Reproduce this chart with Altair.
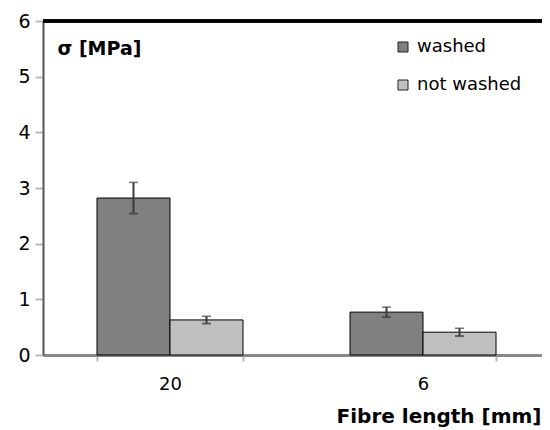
import altair as alt
import pandas as pd

lengths = ["20", "20", "6", "6"]
treatments = ["washed", "not washed", "washed", "not washed"]
stress = [2.82, 0.63, 0.77, 0.41]
err = [0.28, 0.065, 0.09, 0.07]

df = pd.DataFrame({"length": lengths, "treatment": treatments, "stress": stress, "err": err})
df["lo"] = df["stress"] - df["err"]
df["hi"] = df["stress"] + df["err"]

FONT = "DejaVu Sans"
order = ["washed", "not washed"]

x = alt.X("length:N", sort=["20", "6"],
          scale=alt.Scale(paddingInner=0.423, paddingOuter=0.1976, align=0.54),
          axis=alt.Axis(title="Fibre length [mm]", labelAngle=0, labelFontSize=18, labelFont=FONT,
                        labelColor="#000", labelPadding=14, domainColor="#888", domainWidth=3,
                        tickColor="#bbb", tickSize=6, tickWidth=2, tickBand="extent",
                        titleFont=FONT, titleFontSize=20, titleFontWeight="bold", titleColor="#000",
                        titleAnchor="start", titleAlign="right", titleX=498, titleY=67,
                        titleBaseline="alphabetic"))
xo = alt.XOffset("treatment:N", sort=order)

bars = alt.Chart(df).mark_bar(stroke="#000", strokeWidth=1).encode(
    x=x, xOffset=xo,
    y=alt.Y("stress:Q", scale=alt.Scale(domain=[0, 6]),
            axis=alt.Axis(title="σ [MPa]", values=[0, 1, 2, 3, 4, 5, 6], format="d", grid=False,
                          labelFontSize=19, labelFont=FONT, labelColor="#000", labelPadding=5,
                          domainColor="#555", domainWidth=2, tickColor="#bbb", tickSize=8, tickWidth=2,
                          titleAngle=0, titleX=14, titleY=33, titleAlign="left", titleBaseline="alphabetic",
                          titleFont=FONT, titleFontSize=19, titleFontWeight="bold", titleColor="#000")),
    color=alt.Color("treatment:N", sort=order,
                    scale=alt.Scale(domain=order, range=["#808080", "#c0c0c0"]),
                    legend=alt.Legend(title=None, orient="none", legendX=351, legendY=17,
                                      symbolType="square", symbolSize=100, symbolStrokeColor="#222",
                                      symbolStrokeWidth=1, labelFontSize=18, labelFont=FONT,
                                      labelColor="#000", rowPadding=20, labelOffset=5)),
)

rules = alt.Chart(df).mark_rule(color="#3a3a3a", strokeWidth=2).encode(
    x=x, xOffset=xo, y="lo:Q", y2="hi:Q")
caps_hi = alt.Chart(df).mark_tick(color="#3a3a3a", thickness=1.5, size=9, orient="horizontal").encode(
    x=x, xOffset=xo, y="hi:Q")
caps_lo = alt.Chart(df).mark_tick(color="#3a3a3a", thickness=2, size=9, orient="horizontal").encode(
    x=x, xOffset=xo, y="lo:Q")
top = alt.Chart(df).mark_rule(color="#000", strokeWidth=3).encode(y=alt.datum(6))

chart = alt.layer(bars, rules, caps_hi, caps_lo, top).properties(
    width=499, height=334,
    autosize=alt.AutoSizeParams(type="none"),
    padding={"left": 35, "top": 13, "right": 0, "bottom": 73},
).configure_view(stroke=None).configure(background="#fff")

chart.save("out.html", embed_options={"renderer": "svg", "actions": False})
